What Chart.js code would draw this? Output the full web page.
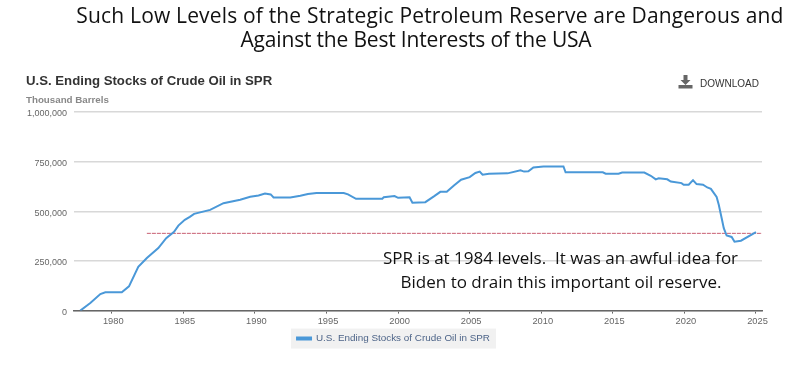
<!DOCTYPE html>
<html>
<head>
<meta charset="utf-8">
<title>SPR</title>
<script src="https://cdn.jsdelivr.net/npm/chart.js@4"></script>
<style>
  html, body { margin: 0; padding: 0; background: #fff; }
  #wrap { position: relative; width: 798px; height: 372px; overflow: hidden; }
  #wrap div { position: absolute; white-space: pre; }
  canvas { position: absolute; left: 0; top: 0; }
  .big { font-family: "Open Sans", sans-serif; color: #111; text-align: center; }
  .site { font-family: "Liberation Sans", Arial, sans-serif; }
</style>
</head>
<body>
<div id="wrap">
  <canvas id="spr-chart" width="798" height="372"></canvas>
  <div class="big" style="left:0;width:860px;top:2px;font-size:21px;line-height:26px;letter-spacing:0.17px">Such Low Levels of the Strategic Petroleum Reserve are Dangerous and</div>
  <div class="big" style="left:0;width:832px;top:26px;font-size:21px;line-height:26px;letter-spacing:-0.18px">Against the Best Interests of the USA</div>
  <div class="site" style="left:26px;top:73px;font-size:13.2px;font-weight:bold;color:#333">U.S. Ending Stocks of Crude Oil in SPR</div>
  <div class="site" style="left:26px;top:94px;font-size:9.75px;font-weight:bold;color:#888">Thousand Barrels</div>
  <svg style="position:absolute;left:678px;top:74px" width="15" height="15" viewBox="0 0 15 15">
    <path d="M5.5 1h4v5h3l-5 5-5-5h3z M0.5 11h14v3.5h-14z" fill="#666"/>
  </svg>
  <div class="site" style="left:700px;top:78px;font-size:10px;color:#333">DOWNLOAD</div>
  <div class="big" style="left:0;width:1121px;top:246px;font-size:17px;line-height:24px">SPR is at 1984 levels.  It was an awful idea for</div>
  <div class="big" style="left:0;width:1122px;top:270px;font-size:17px;line-height:24px">Biden to drain this important oil reserve.</div>
</div>
<script>
// thousand barrels at decimal year
const years = [1977.8, 1978.5, 1979.2, 1979.55, 1980.7, 1981.2, 1981.85, 1982.45, 1983.25, 1983.8,
  1984.35, 1984.65, 1985.1, 1985.45, 1985.75, 1986.87, 1987.8, 1988.97, 1989.67, 1990.25,
  1990.7, 1991.1, 1991.3, 1992.47, 1993.17, 1993.7, 1994.3, 1996.2, 1996.5, 1997.06,
  1998.9, 1999.0, 1999.75, 2000.0, 2000.8, 2001.0, 2001.9, 2002.5, 2002.95, 2003.4,
  2003.9, 2004.4, 2005.0, 2005.4, 2005.7, 2005.9, 2006.35, 2007.65, 2008.55, 2008.8,
  2009.1, 2009.45, 2010.15, 2011.55, 2011.7, 2014.3, 2014.5, 2015.4, 2015.65, 2017.2,
  2017.65, 2018.0, 2018.2, 2018.8, 2019.05, 2019.8, 2019.95, 2020.3, 2020.6, 2020.85,
  2021.3, 2021.6, 2021.85, 2022.25, 2022.4, 2022.6, 2022.75, 2022.95, 2023.3, 2023.5,
  2023.95, 2025.0];
const stocks = [0, 38000, 83000, 92000, 92000, 122000, 220000, 265000, 315000, 365000,
  397000, 428000, 457000, 472000, 487000, 507000, 541000, 558000, 573000, 580000,
  590000, 585000, 570000, 570000, 578000, 587000, 592000, 592000, 585000, 563000,
  563000, 571000, 577000, 568000, 571000, 543000, 546000, 575000, 598000, 598000,
  630000, 659000, 672000, 693000, 700000, 684000, 689000, 691000, 706000, 700000,
  701000, 721000, 726000, 726000, 696000, 696000, 689000, 689000, 695000, 695000,
  679000, 661000, 666000, 661000, 650000, 642000, 634000, 634000, 657000, 637000,
  634000, 620000, 613000, 572000, 533000, 466000, 415000, 378000, 371000, 347000,
  352000, 395000];
const refYears = [1982.45, 2025.42];
const refLevel = [389000, 389000];
const xTicks = [1980, 1985, 1990, 1995, 2000, 2005, 2010, 2015, 2020, 2025];
const yTicks = [0, 250000, 500000, 750000, 1000000];
const seriesName = 'U.S. Ending Stocks of Crude Oil in SPR';

const legendBack = {
  id: 'legendBack',
  beforeDraw(chart) {
    const hit = chart.legend.legendHitBoxes[0];
    if (!hit) return;
    const c = chart.ctx;
    c.save();
    c.fillStyle = '#f1f1f1';
    c.fillRect(hit.left - 6, hit.top + hit.height / 2 - 10, hit.width + 12, 20);
    c.restore();
  }
};

new Chart(document.querySelector('#spr-chart').getContext('2d'), {
  type: 'line',
  plugins: [legendBack],
  data: {
    datasets: [
      {
        label: seriesName,
        data: years.map((y, i) => ({ x: y, y: stocks[i] })),
        borderColor: '#4a98d8',
        backgroundColor: '#4a98d8',
        borderWidth: 2,
        pointRadius: 0,
        tension: 0
      },
      {
        label: 'level',
        data: refYears.map((y, i) => ({ x: y, y: refLevel[i] })),
        borderColor: 'rgba(180,40,65,0.75)',
        borderWidth: 1,
        borderDash: [4, 1],
        pointRadius: 0
      }
    ]
  },
  options: {
    responsive: false,
    animation: false,
    layout: { padding: { left: 25, right: 36, top: 112, bottom: 18.5 } },
    plugins: {
      tooltip: { enabled: false },
      legend: {
        position: 'bottom',
        labels: {
          filter: item => item.text === seriesName,
          boxWidth: 14,
          boxHeight: 2,
          padding: 3,
          color: '#4d6488',
          font: { family: '"Liberation Sans", Arial, sans-serif', size: 9.9 }
        }
      }
    },
    scales: {
      x: {
        type: 'linear',
        min: 1977.36,
        max: 2025.42,
        afterBuildTicks: scale => { scale.ticks = xTicks.map(v => ({ value: v })); },
        afterFit: scale => { scale.height = 20; },
        ticks: {
          autoSkip: false,
          maxRotation: 0,
          padding: 2,
          labelOffset: 1.5,
          color: '#666',
          font: { family: '"Liberation Sans", Arial, sans-serif', size: 9.3 },
          callback: v => String(v)
        },
        grid: { drawOnChartArea: false, color: '#666', tickLength: 3 },
        border: { color: '#666', width: 1.5 }
      },
      y: {
        min: 0,
        max: 1000000,
        afterBuildTicks: scale => { scale.ticks = yTicks.map(v => ({ value: v })); },
        afterFit: scale => { scale.width = 49; },
        ticks: {
          padding: 7,
          labelOffset: 2,
          color: '#666',
          font: { family: '"Liberation Sans", Arial, sans-serif', size: 9 },
          callback: v => v.toLocaleString('en-US')
        },
        grid: { color: '#d8d8d8', lineWidth: 1.5, drawTicks: false },
        border: { display: false }
      }
    }
  }
});
</script>
</body>
</html>
